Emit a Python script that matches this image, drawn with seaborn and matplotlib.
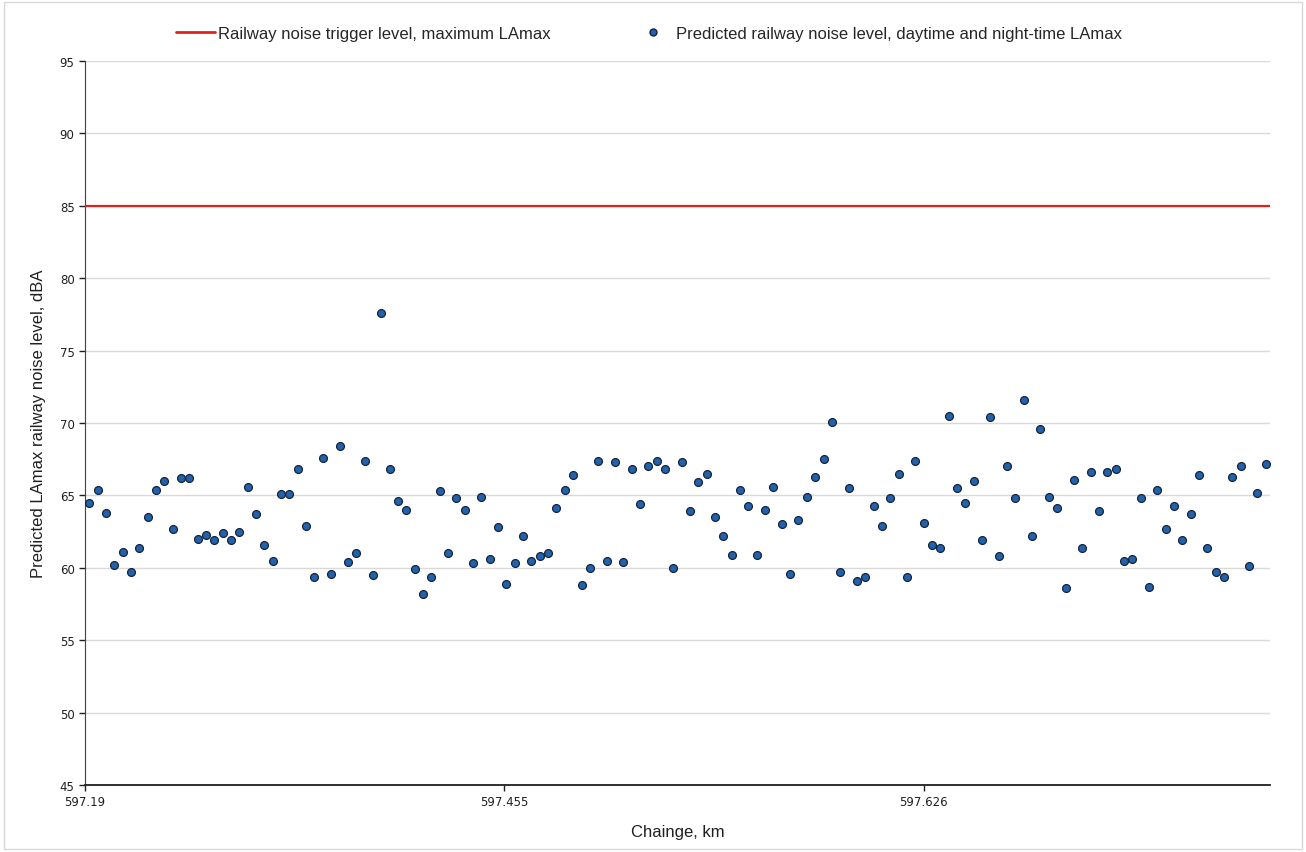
import matplotlib
matplotlib.use('Agg')
import matplotlib.pyplot as plt
import seaborn as sns
import pandas as pd
from matplotlib.lines import Line2D
from matplotlib.patches import Rectangle

# predicted LAmax at each chainage point (left to right)
lamax = [64.5, 65.4, 63.8, 60.2, 61.1, 59.7, 61.4, 63.5, 65.4, 66.0,
         62.7, 66.2, 66.2, 62.0, 62.3, 61.9, 62.4, 61.9, 62.5, 65.6,
         63.7, 61.6, 60.5, 65.1, 65.1, 66.8, 62.9, 59.4, 67.6, 59.6,
         68.4, 60.4, 61.0, 67.4, 59.5, 77.6, 66.8, 64.6, 64.0, 59.9,
         58.2, 59.4, 65.3, 61.0, 64.8, 64.0, 60.3, 64.9, 60.6, 62.8,
         58.9, 60.3, 62.2, 60.5, 60.8, 61.0, 64.1, 65.4, 66.4, 58.8,
         60.0, 67.4, 60.5, 67.3, 60.4, 66.8, 64.4, 67.0, 67.4, 66.8,
         60.0, 67.3, 63.9, 65.9, 66.5, 63.5, 62.2, 60.9, 65.4, 64.3,
         60.9, 64.0, 65.6, 63.0, 59.6, 63.3, 64.9, 66.3, 67.5, 70.1,
         59.7, 65.5, 59.1, 59.4, 64.3, 62.9, 64.8, 66.5, 59.4, 67.4,
         63.1, 61.6, 61.4, 70.5, 65.5, 64.5, 66.0, 61.9, 70.4, 60.8,
         67.0, 64.8, 71.6, 62.2, 69.6, 64.9, 64.1, 58.6, 66.1, 61.4,
         66.6, 63.9, 66.6, 66.8, 60.5, 60.6, 64.8, 58.7, 65.4, 62.7,
         64.3, 61.9, 63.7, 66.4, 61.4, 59.7, 59.4, 66.3, 67.0, 60.1,
         65.2, 67.2]
trigger_level = 85
tick_labels = ['597.19', '597.455', '597.626']
tick_every = 50

df = pd.DataFrame({'point': range(len(lamax)), 'lamax': lamax})

sns.set_style('white')
plt.rcParams['font.family'] = ['Liberation Sans', 'DejaVu Sans']

fig = plt.figure(figsize=(13.06, 8.53), dpi=100)
ax = fig.add_axes([0.0651, 0.0785, 0.9073, 0.8488])

ax.axhline(trigger_level, color='#E3211C', lw=1.6, zorder=3)
sns.scatterplot(data=df, x='point', y='lamax', ax=ax, s=32,
                color='#2461AC', edgecolor='#14243A', linewidth=0.9, zorder=4)

ax.set_xlim(-0.5, len(lamax) - 0.5)
ax.set_ylim(45, 95)
ax.set_yticks(range(45, 96, 5))
ax.set_xticks([-0.5 + i * (tick_every + 0.25) for i in range(len(tick_labels))])
ax.set_xticklabels(tick_labels)
ax.grid(axis='y', color='#D9D9D9', lw=1)
ax.grid(axis='x', visible=False)
for side in ['top', 'right']:
    ax.spines[side].set_visible(False)
ax.spines['left'].set_color('#404040')
ax.spines['bottom'].set_color('#202020')
ax.spines['bottom'].set_linewidth(1.3)
ax.tick_params(axis='both', which='both', direction='out', length=4, width=1,
               labelsize=8.5, colors='#202020', left=True, bottom=True)
for lab in ax.get_xticklabels() + ax.get_yticklabels():
    lab.set_family('DejaVu Sans')

ax.set_xlabel('Chainge, km', fontsize=12, color='#202020', labelpad=11)
ax.set_ylabel('Predicted LAmax railway noise level, dBA', fontsize=12,
              color='#202020', labelpad=10)

handles = [Line2D([], [], color='#E3211C', lw=2),
           Line2D([], [], marker='o', ls='', markersize=5,
                  markerfacecolor='#2461AC', markeredgecolor='#14243A')]
fig.legend(handles, ['Railway noise trigger level, maximum LAmax',
                     'Predicted railway noise level, daytime and night-time LAmax'],
           loc='center', bbox_to_anchor=(0.497, 0.96), ncol=2, frameon=False,
           fontsize=12, columnspacing=5, handlelength=2.3, handletextpad=0.2)

# light border round the chart area
fig.patches.append(Rectangle((0.003, 0.003), 0.994, 0.994, transform=fig.transFigure,
                             fill=False, edgecolor='#D9D9D9', lw=1))

plt.savefig('out.png', dpi=100)
